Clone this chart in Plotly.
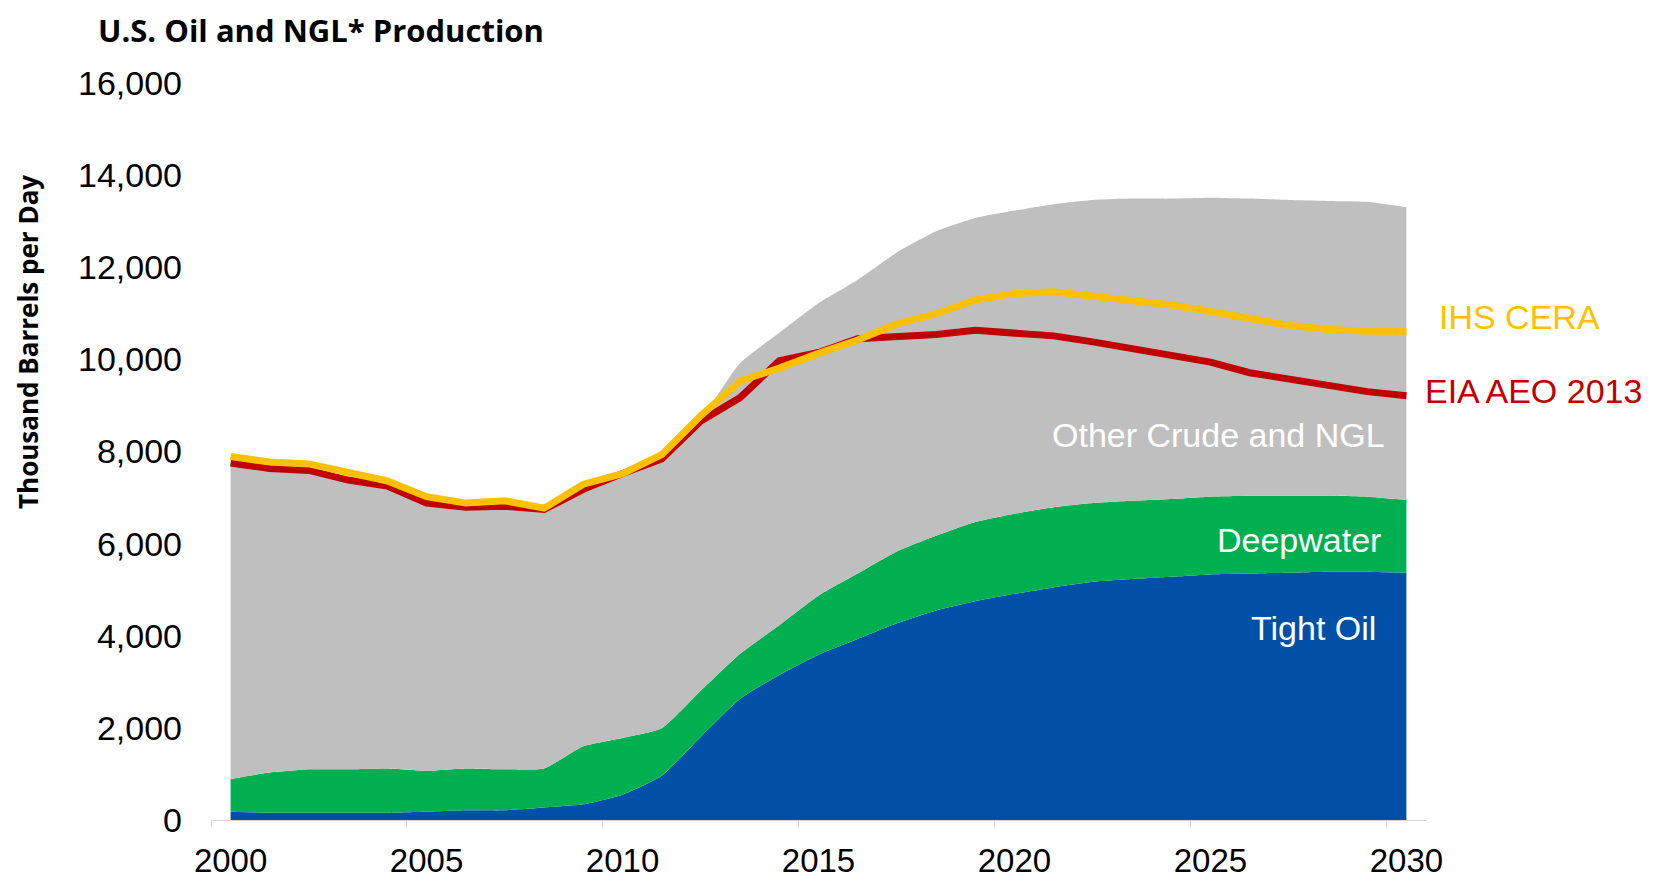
import plotly.graph_objects as go

# thousand barrels per day
years = list(range(2000, 2031))
tight_oil = [180, 160, 160, 160, 160, 180, 210, 210, 270, 340, 550, 960, 1810, 2630, 3150, 3590,
             3930, 4270, 4550, 4750, 4910, 5050, 5170, 5230, 5280, 5330, 5350, 5370, 5390, 5390, 5370]
deepwater = [710, 870, 940, 940, 960, 890, 910, 890, 850, 1260, 1230, 1030, 1000, 980, 1080, 1280,
             1420, 1560, 1620, 1720, 1740, 1740, 1710, 1700, 1690, 1690, 1690, 1670, 1650, 1630, 1580]
other_crude_ngl = [6830, 6570, 6460, 6250, 6100, 5790, 5650, 5690, 5600, 5570, 5720, 5830, 5890, 6310, 6350, 6350,
                   6380, 6490, 6610, 6600, 6580, 6580, 6580, 6560, 6520, 6490, 6450, 6420, 6400, 6400, 6350]
eia_aeo_2013 = [7750, 7630, 7590, 7380, 7250, 6880, 6790, 6810, 6740, 7180, 7520, 7840, 8660, 9170, 9970, 10150,
                10450, 10490, 10540, 10630, 10580, 10510, 10380, 10240, 10100, 9940, 9710, 9580, 9440, 9300, 9210]
ihs_cera = [7890, 7770, 7730, 7540, 7360, 7020, 6880, 6930, 6770, 7290, 7520, 7930, 8780, 9530, 9810, 10130,
            10420, 10770, 10990, 11290, 11430, 11470, 11380, 11290, 11180, 11040, 10880, 10740, 10650, 10610, 10610]

areas = [
    ("Tight Oil", tight_oil, "#0050A8"),
    ("Deepwater", deepwater, "#00B050"),
    ("Other Crude and NGL", other_crude_ngl, "#BFBFBF"),
]

fig = go.Figure()

for name, vals, color in areas:
    fig.add_trace(go.Scatter(
        x=years, y=vals, name=name, mode="lines", stackgroup="prod",
        line=dict(width=0, shape="spline", smoothing=0.5),
        fillcolor=color,
    ))

fig.add_trace(go.Scatter(x=years, y=eia_aeo_2013, name="EIA AEO 2013", mode="lines",
                         line=dict(color="#C00000", width=7)))
fig.add_trace(go.Scatter(x=years, y=ihs_cera, name="IHS CERA", mode="lines",
                         line=dict(color="#FFC000", width=7)))

lbl_font = "Liberation Sans, Arial, sans-serif"

# plot area in page pixels: x 211..1426, y 83..820 (page body adds 8px offset)
def px(x):
    return (x - 211) / 1215

def py(y):
    return (820 - y) / 737

# labels inside the areas and at line ends
labels = [
    ("Other Crude and NGL", 1218, 435, "center", "white"),
    ("Deepwater", 1383, 540, "right", "white"),
    ("Tight Oil", 1378, 628, "right", "white"),
    ("IHS CERA", 1437, 317, "left", "#FFC000"),
    ("EIA AEO 2013", 1423, 391, "left", "#C00000"),
]
for text, x, y, anchor, color in labels:
    fig.add_annotation(x=px(x), y=py(y), xref="paper", yref="paper", text=text, showarrow=False,
                       xanchor=anchor, yanchor="middle",
                       font=dict(family=lbl_font, size=34, color=color))

fig.add_annotation(x=px(28), y=py(342), xref="paper", yref="paper",
                   text="<b>Thousand Barrels per Day</b>", textangle=-90, showarrow=False,
                   xanchor="center", yanchor="middle", borderpad=0,
                   font=dict(family="Open Sans, sans-serif", size=26, color="black"))

fig.add_annotation(x=px(97), y=py(30), xref="paper", yref="paper",
                   text="<b>U.S. Oil and NGL* Production</b>", showarrow=False,
                   xanchor="left", yanchor="middle", borderpad=0,
                   font=dict(family="Open Sans, sans-serif", size=31, color="black"))

fig.update_layout(
    width=1645, height=871,
    plot_bgcolor="white", paper_bgcolor="white",
    showlegend=False,
    margin=dict(l=203, r=227, t=75, b=59),
    xaxis=dict(range=[1999.5, 2030.5], tickvals=[2000, 2005, 2010, 2015, 2020, 2025, 2030],
               automargin=False,
               showgrid=False, zeroline=False, showline=True, linecolor="#D9D9D9", linewidth=1,
               ticks="", ticklabelstandoff=11,
               tickfont=dict(family=lbl_font, size=33, color="black"),
               minor=dict(tickvals=[1999.5, 2004.5, 2009.5, 2014.5, 2019.5, 2024.5, 2029.5],
                          ticks="outside", ticklen=6, tickcolor="#D9D9D9", showgrid=False)),
    yaxis=dict(range=[0, 16000], dtick=2000, tickformat=",d", automargin=False,
               showgrid=False, zeroline=False, showline=False,
               ticks="", ticklabelstandoff=28,
               tickfont=dict(family=lbl_font, size=34, color="black")),
)

fig.write_html("out.html")
